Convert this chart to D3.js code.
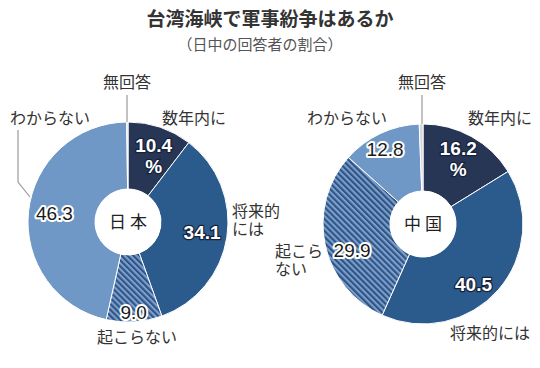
<!DOCTYPE html>
<html><head><meta charset="utf-8">
<script src="https://cdn.jsdelivr.net/npm/d3@7"></script>
<style>
body{margin:0;background:#fff;}
svg{display:block;}
</style></head>
<body><svg id="c" width="540" height="368"></svg>
<script>
const title = "台湾海峡で軍事紛争はあるか";
const subtitle = "（日中の回答者の割合）";
const categories = ["数年内に", "将来的には", "起こらない", "わからない", "無回答"];
const japanValues = [10.4, 34.1, 9.0, 46.3, 0.2];
const chinaValues = [16.2, 40.5, 29.9, 12.8, 0.6];
const countries = ["日 本", "中 国"];

const svg = d3.select("#c");
const JP = "'Noto Sans CJK JP', 'Noto Sans', sans-serif";
const NUM = "'Liberation Sans', Arial, sans-serif";

const colors = d3.scaleOrdinal().domain(categories)
  .range(["#283656", "#2b5a8d", "url(#hatch)", "#6f98c6", "#d4d6d9"]);

const defs = svg.append("defs");
const pat = defs.append("pattern").attr("id", "hatch")
  .attr("patternUnits", "userSpaceOnUse").attr("width", 4.2).attr("height", 4.2)
  .attr("patternTransform", "rotate(-45)");
pat.append("rect").attr("width", 4.2).attr("height", 4.2).attr("fill", "#7d9fcb");
pat.append("rect").attr("width", 2.1).attr("height", 4.2).attr("fill", "#2e5385");

svg.append("text").attr("x", 270).attr("y", 26).attr("text-anchor", "middle")
  .attr("font-family", JP).attr("font-size", 19).attr("font-weight", 700)
  .attr("fill", "#333").text(title);
svg.append("text").attr("x", 260).attr("y", 50).attr("text-anchor", "middle")
  .attr("font-family", JP).attr("font-size", 15)
  .attr("fill", "#555").text(subtitle);

const R = 100, r0 = 33;
const pie = d3.pie().sort(null).value(d => d.v);
const arc = d3.arc().innerRadius(r0).outerRadius(R);

function donut(cx, cy, values, name, cfg) {
  const g = svg.append("g").attr("transform", `translate(${cx},${cy})`);
  const data = pie(categories.map((c, i) => ({c, v: values[i]})));
  g.selectAll("path").data(data).join("path")
    .attr("d", arc).attr("fill", d => colors(d.data.c))
    .attr("stroke", "#fff").attr("stroke-width", 1);
  g.append("circle").attr("r", r0).attr("fill", "#fff");
  g.append("text").attr("y", 6).attr("text-anchor", "middle")
    .attr("font-family", JP).attr("font-size", 17).attr("fill", "#222").text(name);

  // value labels
  data.forEach((d, i) => {
    const vc = cfg.vals[i];
    if (!vc) return;
    const a = (d.startAngle + d.endAngle) / 2 + (vc.da || 0) * Math.PI / 180;
    const x = Math.sin(a) * vc.r, y = -Math.cos(a) * vc.r;
    const t = g.append("text").attr("x", x).attr("y", y + 6).attr("text-anchor", "middle")
      .attr("font-family", NUM).attr("font-size", 19)
      .attr("font-weight", vc.white ? 700 : 400)
      .attr("fill", vc.white ? "#fff" : "#1a1a1a")
      .attr("stroke", vc.white ? "#17223a" : "#fff")
      .attr("stroke-width", vc.white ? 2.5 : 4)
      .attr("stroke-linejoin", "round")
      .attr("paint-order", "stroke");
    t.text(d3.format(".1f")(d.data.v));
    if (vc.pct) {
      g.append("text").attr("x", x).attr("y", y + 27).attr("text-anchor", "middle")
        .attr("font-family", NUM).attr("font-size", 19).attr("font-weight", 700)
        .attr("fill", "#fff").attr("stroke", "#17223a").attr("stroke-width", 2.5)
        .attr("paint-order", "stroke").text("%");
    }
  });

  // category labels
  cfg.cats.forEach(cl => {
    const t = g.append("text").attr("font-family", JP).attr("font-size", 16)
      .attr("fill", "#333").attr("text-anchor", cl.anchor || "middle");
    cl.lines.forEach((ln, k) => {
      t.append("tspan").attr("x", cl.x).attr("y", cl.y + k * 18).text(ln);
    });
  });
  cfg.leaders.forEach(pts => {
    g.append("path").attr("d", d3.line()(pts)).attr("fill", "none")
      .attr("stroke", "#9a9a9a").attr("stroke-width", 1.2);
  });
}

donut(128, 222, japanValues, countries[0], {
  vals: [
    {r: 80, white: true, pct: true},
    {r: 75, white: true},
    {r: 91},
    {r: 74},
    null
  ],
  cats: [
    {lines: ["無回答"], x: -1, y: -134},
    {lines: ["わからない"], x: -78, y: -98},
    {lines: ["数年内に"], x: 66, y: -98},
    {lines: ["将来的", "には"], x: 104, y: -5, anchor: "start"},
    {lines: ["起こらない"], x: 9, y: 121}
  ],
  leaders: [
    [[-1, -127], [-1, -100]],
    [[-110, -92], [-110, -40], [-98, -25]]
  ]
});

donut(423, 224, chinaValues, countries[1], {
  vals: [
    {r: 83, white: true, pct: true, da: -4},
    {r: 79, white: true, da: 9},
    {r: 76, da: -9},
    {r: 83, da: -2},
    null
  ],
  cats: [
    {lines: ["無回答"], x: -1, y: -136},
    {lines: ["わからない"], x: -76, y: -100},
    {lines: ["数年内に"], x: 77, y: -100},
    {lines: ["将来的には"], x: 67, y: 115},
    {lines: ["起こら", "ない"], x: -148, y: 33, anchor: "start"}
  ],
  leaders: [
    [[-1, -129], [-1, -100]]
  ]
});
</script></body></html>
